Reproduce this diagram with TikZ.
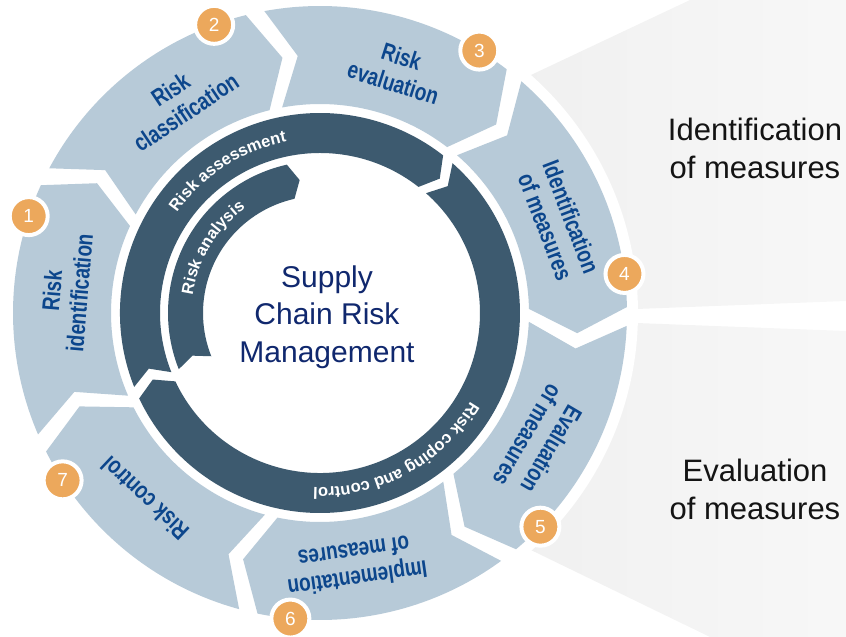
\documentclass[tikz,border=0pt]{standalone}
\usepackage{fontspec}
\usepackage{graphicx}
\setmainfont{Liberation Sans}
\usetikzlibrary{decorations.text}

\definecolor{segblue}{RGB}{183,202,216}
\definecolor{ringdark}{RGB}{61,90,111}
\definecolor{labelblue}{RGB}{12,70,140}
\definecolor{titleblue}{RGB}{16,40,110}
\definecolor{badgeorange}{RGB}{236,168,92}

\newcommand\ringfont{\bfseries\fontsize{16.5}{16.5}\selectfont}

\begin{document}
\begin{tikzpicture}[x=1pt,y=1pt,
  seg/.style={fill=segblue},
  darkarc/.style={fill=ringdark},
  panel/.style={left color=black!6, right color=black!3},
  badge/.style={circle, fill=badgeorange, draw=white, line width=4pt,
    minimum size=38pt, inner sep=0pt, text=white,
    font=\fontsize{19}{19}\selectfont},
  seglabel/.style={text=labelblue, inner sep=0pt,
    font=\bfseries\fontsize{19}{21.5}\selectfont},
  ringtext/.style={decorate, decoration={text along path, text align=center,
    text color=white, text={|\ringfont|#1}}},
  centertext/.style={text=titleblue, align=center, inner sep=0pt,
    font=\fontsize{30}{37.5}\selectfont},
  sidetext/.style={text=black!92, align=center, inner sep=0pt,
    font=\fontsize{31}{38}\selectfont}]

\useasboundingbox (-320,-324) rectangle (526,313);

% side panels fanning out from the wheel
\shade[panel] (180,223.4) -- (370,313) -- (526,313) -- (526,12) -- (180,-1.2) -- cycle;
\shade[panel] (180,-4.8) -- (526,-18) -- (526,-324) -- (390,-324) -- (180,-222) -- cycle;
\fill[white] (0,0) circle[radius=318pt];

% outer ring of seven chevron segments (clockwise)
\foreach \k in {0,...,6}{
  \pgfmathsetmacro\H{155.4-51.4286*\k}
  \pgfmathsetmacro\T{\H+47.9}
  \pgfmathsetmacro\Tip{\H-5.6}
  \pgfmathsetmacro\Notch{\T-5.5}
  \fill[seg] (\T:307) arc[start angle=\T, end angle=\H, radius=307pt]
    -- (\Tip:258) -- (\H:209) arc[start angle=\H, end angle=\T, radius=209pt]
    -- (\Notch:258) -- cycle;
}

% middle ring: risk assessment / risk coping and control
\fill[darkarc] (201.7:200) arc[start angle=201.7, end angle=52, radius=200pt]
  -- (48.3:180) -- (52:160) arc[start angle=52, end angle=201.7, radius=160pt]
  -- (198:180) -- cycle;
\fill[darkarc] (48.5:200) arc[start angle=48.5, end angle=-154.7, radius=200pt]
  -- (-158.3:180) -- (-154.7:160) arc[start angle=-154.7, end angle=48.5, radius=160pt]
  -- (44.8:180) -- cycle;

% inner arc: risk analysis
\fill[darkarc] (201.7:152) arc[start angle=201.7, end angle=102.6, radius=152pt]
  -- (98.7:134.5) -- (102.6:117) arc[start angle=102.6, end angle=201.7, radius=117pt]
  -- (198.5:134.5) -- cycle;

% curved captions on the dark arcs
\path[ringtext={Risk assessment}] (163:174.5) arc[start angle=163, end angle=83, radius=174.5pt];
\path[ringtext={Risk coping and control}] (-21.3:174.5) arc[start angle=-21.3, end angle=-101.3, radius=174.5pt];
\path[ringtext={Risk analysis}] (188.7:128.5) arc[start angle=188.7, end angle=108.7, radius=128.5pt];

% segment captions
\foreach \k/\txt in {0/{Risk\\identification},1/{Risk\\classification},
    2/{Risk\\evaluation},3/{Identification\\of measures},
    4/{Evaluation\\of measures},5/{Implementation\\of measures},6/{Risk control}}{
  \pgfmathsetmacro\A{175.2-51.4286*\k}
  \pgfmathsetmacro\R{\A-90}
  \node[seglabel, rotate=\R] (lab\k) at (\A:252)
    {\scalebox{1}[1.28]{\begin{tabular}{@{}c@{}}\txt\end{tabular}}};
}

% numbered badges
\foreach \k in {0,...,6}{
  \pgfmathsetmacro\B{161.6-51.4286*\k}
  \pgfmathtruncatemacro\n{\k+1}
  \node[badge] (badge\n) at (\B:307) {\n};
}

% titles
\node[centertext] (title) at (7,-4) {Supply\\Chain Risk\\Management};
\node[sidetext] (identify) at (435,165) {Identification\\of measures};
\node[sidetext] (evaluate) at (435,-176) {Evaluation\\of measures};

\end{tikzpicture}
\end{document}
